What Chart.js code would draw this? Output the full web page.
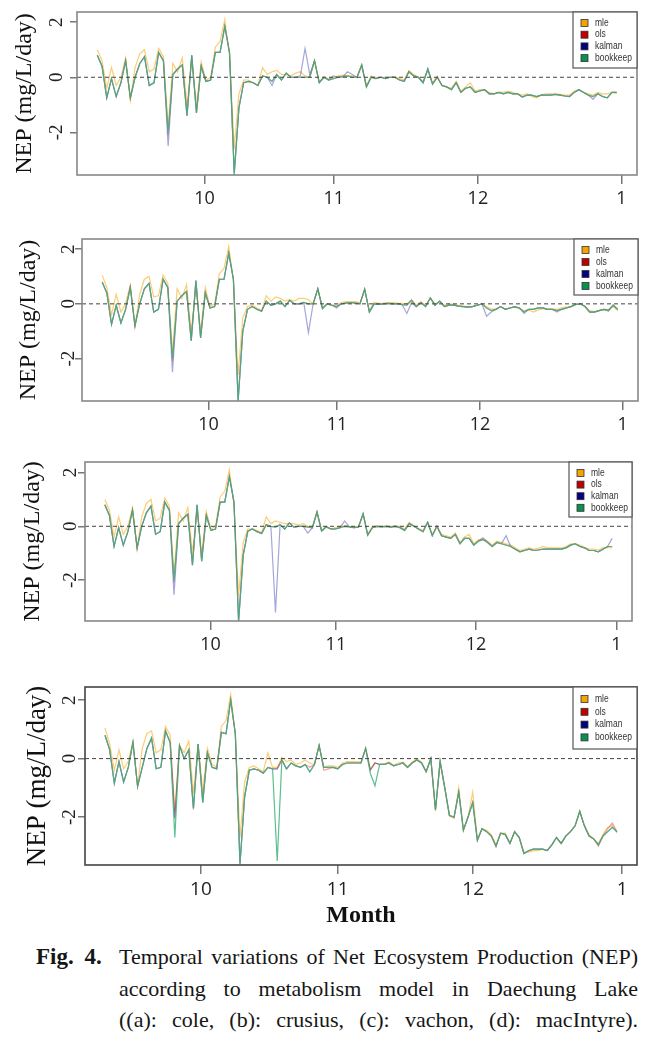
<!DOCTYPE html>
<html>
<head>
<meta charset="utf-8">
<script src="https://cdn.jsdelivr.net/npm/chart.js@4.4.1/dist/chart.umd.min.js"></script>
<style>
  html, body { margin: 0; padding: 0; background: #fff; }
  body { width: 658px; height: 1038px; position: relative; overflow: hidden; }
  .panel { position: absolute; left: 0; width: 658px; }
  .cap { position: absolute; font-family: "Liberation Serif", "Times New Roman", serif; font-size: 22px; line-height: 31.5px; color: #161616; }
  .ln { text-align: justify; text-align-last: justify; white-space: nowrap; }
</style>
</head>
<body>
<div class="panel" style="top:0;height:215px"><canvas id="pa"></canvas></div>
<div class="panel" style="top:225px;height:215px"><canvas id="pb"></canvas></div>
<div class="panel" style="top:445px;height:215px"><canvas id="pc"></canvas></div>
<div class="panel" style="top:665px;height:275px"><canvas id="pd"></canvas></div>

<div class="cap" style="left:36px;top:941px;font-weight:bold;font-size:23px;word-spacing:5px">Fig. 4.</div>
<div class="cap" style="left:119px;top:941px;width:519px">
  <div class="ln">Temporal variations of Net Ecosystem Production (NEP)</div>
  <div class="ln">according to metabolism model in Daechung Lake</div>
  <div class="ln">((a): cole, (b): crusius, (c): vachon, (d): macIntyre).</div>
</div>

<script>
// one value per day, from early September to the end of December
const seriesNames = ['mle', 'ols', 'kalman', 'bookkeep'];
const monthLabels = ['10', '11', '12', '1'];
const yTicks = [-2, 0, 2];

// (a) cole
const aMle = [
  1.0, 0.6, -0.4, 0.35, -0.3, 0.0, 0.7, -0.85, 0.35, 0.85,
  1.0, 0.2, 0.3, 1.05, 0.75, -1.8, 0.5, 0.2, 0.7, -1.0,
  0.6, -1.0, 0.55, -0.1, 0.0, 1.1, 1.3, 2.1, 0.8, -2.6,
  -0.6, -0.1, -0.1, -0.2, -0.3, 0.35, 0.1, 0.2, 0.25, 0.1,
  0.1, 0.05, 0.15, 0.2, 0.05, 0.0, 0.6, -0.15, 0.0, -0.05,
  0.0, 0.05, 0.08, 0.05, 0.05, 0.0, 0.4, -0.3, 0.05, 0.0,
  0.0, 0.0, 0.0, 0.02, -0.05, -0.1, 0.25, 0.1, 0.0, -0.15,
  0.25, -0.2, 0.05, -0.3, -0.35, -0.4, -0.15, -0.5, -0.35, -0.2,
  -0.5, -0.45, -0.45, -0.55, -0.6, -0.55, -0.55, -0.5, -0.55, -0.6,
  -0.65, -0.6, -0.7, -0.75, -0.65, -0.6, -0.6, -0.6, -0.62, -0.65,
  -0.65, -0.5, -0.45, -0.55, -0.6, -0.65, -0.55, -0.6, -0.6, -0.55,
  -0.6
];
const aOls = [
  0.8, 0.4, -0.75, -0.05, -0.7, -0.2, 0.6, -0.75, 0.0, 0.5,
  0.75, -0.3, -0.2, 0.9, 0.6, -2.1, 0.1, 0.3, 0.45, -1.4,
  0.8, -1.3, 0.4, -0.15, -0.1, 0.9, 0.9, 1.85, 0.9, -3.45,
  -1.1, -0.2, -0.15, -0.2, -0.3, 0.05, 0.0, -0.15, 0.1, -0.1,
  0.15, 0.0, 0.0, 0.0, 0.0, 0.0, 0.6, -0.2, 0.0, -0.1,
  -0.05, 0.0, 0.02, 0.05, 0.0, 0.0, 0.45, -0.35, 0.0, -0.05,
  0.0, -0.05, 0.0, 0.0, -0.1, -0.15, 0.2, 0.05, 0.0, -0.2,
  0.3, -0.25, 0.0, -0.3, -0.35, -0.45, -0.2, -0.55, -0.4, -0.35,
  -0.55, -0.5, -0.45, -0.6, -0.6, -0.55, -0.6, -0.55, -0.6, -0.6,
  -0.72, -0.65, -0.65, -0.7, -0.65, -0.65, -0.65, -0.62, -0.65, -0.68,
  -0.7, -0.55, -0.45, -0.55, -0.65, -0.7, -0.6, -0.7, -0.75, -0.55,
  -0.55
];
const aKalman = [
  0.8, 0.4, -0.75, -0.05, -0.7, -0.2, 0.6, -0.75, 0.0, 0.5,
  0.75, -0.3, -0.2, 0.9, 0.6, -2.5, 0.1, 0.3, 0.45, -1.4,
  0.8, -1.3, 0.4, -0.15, -0.1, 0.9, 0.9, 1.85, 0.9, -3.5,
  -1.1, -0.2, -0.15, -0.2, -0.3, 0.05, 0.0, -0.3, 0.1, -0.1,
  0.15, 0.0, 0.0, 0.05, 1.05, 0.1, 0.6, -0.2, 0.0, -0.1,
  0.05, 0.0, 0.02, 0.2, 0.1, 0.0, 0.45, -0.35, 0.0, -0.05,
  0.0, -0.05, 0.0, 0.0, -0.1, -0.15, 0.2, 0.05, 0.0, -0.2,
  0.3, -0.25, 0.0, -0.3, -0.35, -0.45, -0.2, -0.55, -0.4, -0.35,
  -0.55, -0.5, -0.45, -0.6, -0.6, -0.55, -0.6, -0.55, -0.6, -0.6,
  -0.72, -0.65, -0.65, -0.7, -0.65, -0.65, -0.65, -0.62, -0.65, -0.68,
  -0.7, -0.55, -0.45, -0.55, -0.65, -0.8, -0.6, -0.7, -0.75, -0.55,
  -0.55
];
const aBook = [
  0.8, 0.4, -0.75, -0.05, -0.7, -0.2, 0.6, -0.75, 0.0, 0.5,
  0.75, -0.3, -0.2, 0.9, 0.6, -2.0, 0.1, 0.3, 0.45, -1.4,
  0.8, -1.3, 0.4, -0.15, -0.1, 0.9, 0.9, 1.85, 0.9, -3.55,
  -1.1, -0.2, -0.15, -0.2, -0.3, 0.05, 0.0, -0.15, 0.1, -0.1,
  0.15, 0.0, 0.0, 0.0, 0.0, 0.0, 0.6, -0.2, 0.0, -0.1,
  -0.05, 0.0, 0.02, 0.05, 0.0, 0.0, 0.45, -0.35, 0.0, -0.05,
  0.0, -0.05, 0.0, 0.0, -0.1, -0.15, 0.2, 0.05, 0.0, -0.2,
  0.3, -0.25, 0.0, -0.3, -0.35, -0.45, -0.2, -0.55, -0.4, -0.35,
  -0.55, -0.5, -0.45, -0.6, -0.6, -0.55, -0.6, -0.55, -0.6, -0.6,
  -0.72, -0.65, -0.65, -0.7, -0.65, -0.65, -0.65, -0.62, -0.65, -0.68,
  -0.7, -0.55, -0.45, -0.55, -0.65, -0.7, -0.6, -0.7, -0.75, -0.55,
  -0.55
];

// (b) crusius
const bMle = [
  1.05, 0.6, -0.4, 0.35, -0.3, 0.0, 0.7, -0.85, 0.35, 0.9,
  1.0, 0.25, 0.3, 1.05, 0.75, -1.8, 0.55, 0.2, 0.7, -1.0,
  0.6, -1.0, 0.6, -0.1, 0.0, 1.1, 1.3, 2.1, 0.8, -2.6,
  -0.5, -0.1, -0.05, -0.15, -0.25, 0.3, 0.1, 0.25, 0.2, 0.1,
  0.15, 0.1, 0.2, 0.2, 0.15, 0.0, 0.55, -0.15, 0.0, -0.05,
  -0.05, 0.05, 0.08, 0.08, 0.08, 0.05, 0.5, -0.25, 0.05, 0.02,
  0.03, 0.05, 0.05, 0.03, 0.02, 0.0, 0.15, -0.05, 0.08, -0.05,
  0.2, 0.0, 0.08, -0.05, 0.0, -0.02, -0.05, -0.08, -0.1, -0.1,
  -0.05, 0.0, -0.1, -0.2, -0.18, -0.1, -0.2, -0.15, -0.12, -0.18,
  -0.25, -0.22, -0.3, -0.22, -0.18, -0.2, -0.18, -0.2, -0.15, -0.12,
  -0.1, -0.02, 0.0, -0.1, -0.25, -0.28, -0.25, -0.2, -0.2, -0.1,
  -0.25
];
const bOls = [
  0.8, 0.4, -0.75, -0.05, -0.7, -0.2, 0.6, -0.8, 0.0, 0.55,
  0.75, -0.3, -0.2, 0.9, 0.6, -2.1, 0.1, 0.3, 0.45, -1.35,
  0.85, -1.25, 0.4, -0.15, -0.1, 0.9, 0.9, 1.85, 0.9, -3.5,
  -1.0, -0.2, -0.1, -0.2, -0.27, 0.1, -0.05, 0.0, 0.1, -0.1,
  0.13, 0.0, 0.0, 0.05, 0.0, 0.0, 0.55, -0.17, 0.0, -0.05,
  -0.1, 0.0, 0.03, 0.05, 0.03, 0.0, 0.54, -0.3, 0.0, -0.02,
  0.0, 0.02, 0.0, 0.0, -0.03, -0.05, 0.13, -0.1, 0.05, -0.1,
  0.22, -0.05, 0.1, -0.1, -0.05, -0.05, -0.08, -0.1, -0.12, -0.1,
  -0.05, 0.0, -0.15, -0.25, -0.2, -0.1, -0.2, -0.15, -0.1, -0.15,
  -0.3, -0.2, -0.2, -0.15, -0.15, -0.2, -0.2, -0.25, -0.2, -0.15,
  -0.1, -0.02, 0.0, -0.1, -0.3, -0.3, -0.25, -0.2, -0.25, -0.05,
  -0.2
];
const bKalman = [
  0.8, 0.4, -0.75, -0.05, -0.7, -0.2, 0.6, -0.8, 0.0, 0.55,
  0.75, -0.3, -0.2, 0.9, 0.6, -2.5, 0.1, 0.3, 0.45, -1.35,
  0.85, -1.25, 0.4, -0.15, -0.1, 0.9, 0.9, 1.85, 0.9, -3.55,
  -1.0, -0.2, -0.1, -0.2, -0.27, 0.1, -0.05, 0.0, 0.1, -0.1,
  0.13, 0.0, 0.0, 0.05, -1.05, 0.0, 0.55, -0.17, 0.0, -0.05,
  -0.15, 0.0, 0.03, 0.05, 0.03, 0.0, 0.54, -0.3, 0.0, -0.02,
  0.0, 0.02, 0.0, 0.0, -0.03, -0.35, 0.05, -0.1, 0.05, -0.1,
  0.22, -0.05, 0.1, -0.1, -0.05, -0.05, -0.08, -0.1, -0.12, -0.1,
  -0.05, 0.0, -0.45, -0.3, -0.2, -0.1, -0.2, -0.15, -0.1, -0.15,
  -0.35, -0.2, -0.2, -0.15, -0.15, -0.2, -0.2, -0.3, -0.2, -0.15,
  -0.1, -0.02, 0.0, -0.1, -0.3, -0.3, -0.25, -0.2, -0.25, -0.05,
  -0.2
];
const bBook = [
  0.8, 0.4, -0.75, -0.05, -0.7, -0.2, 0.6, -0.8, 0.0, 0.55,
  0.75, -0.3, -0.2, 0.9, 0.6, -2.0, 0.1, 0.3, 0.45, -1.35,
  0.85, -1.25, 0.4, -0.15, -0.1, 0.9, 0.9, 1.85, 0.9, -3.55,
  -1.0, -0.2, -0.1, -0.2, -0.27, 0.1, -0.05, 0.0, 0.1, -0.1,
  0.13, 0.0, 0.0, 0.05, 0.0, 0.0, 0.55, -0.17, 0.0, -0.05,
  -0.1, 0.0, 0.03, 0.05, 0.03, 0.0, 0.54, -0.3, 0.0, -0.02,
  0.0, 0.02, 0.0, 0.0, -0.03, -0.05, 0.13, -0.1, 0.05, -0.1,
  0.22, -0.05, 0.1, -0.1, -0.05, -0.05, -0.08, -0.1, -0.12, -0.1,
  -0.05, 0.0, -0.15, -0.25, -0.2, -0.1, -0.2, -0.15, -0.1, -0.15,
  -0.3, -0.2, -0.2, -0.15, -0.15, -0.2, -0.2, -0.25, -0.2, -0.15,
  -0.1, -0.02, 0.0, -0.1, -0.3, -0.3, -0.25, -0.2, -0.25, -0.05,
  -0.2
];

// (c) vachon
const cMle = [
  1.0, 0.6, -0.4, 0.35, -0.3, 0.0, 0.7, -0.85, 0.35, 0.85,
  1.0, 0.2, 0.3, 1.05, 0.75, -1.8, 0.5, 0.2, 0.7, -1.0,
  0.6, -1.0, 0.55, -0.1, 0.0, 1.1, 1.3, 2.1, 0.8, -2.6,
  -0.6, -0.1, -0.1, -0.15, -0.25, 0.35, 0.1, 0.2, 0.15, 0.1,
  0.1, 0.1, 0.05, 0.1, 0.0, 0.0, 0.55, -0.15, 0.0, -0.1,
  -0.05, 0.0, 0.03, 0.0, -0.02, 0.0, 0.45, -0.3, -0.02, 0.03,
  0.0, 0.02, 0.0, 0.02, 0.0, -0.1, 0.15, 0.03, -0.08, -0.15,
  0.15, -0.3, 0.02, -0.3, -0.35, -0.4, -0.25, -0.6, -0.4, -0.3,
  -0.65, -0.5, -0.48, -0.55, -0.7, -0.55, -0.6, -0.65, -0.7, -0.8,
  -0.9, -0.85, -0.8, -0.85, -0.82, -0.75, -0.8, -0.8, -0.8, -0.8,
  -0.75, -0.65, -0.65, -0.7, -0.78, -0.85, -0.85, -0.88, -0.8, -0.78,
  -0.8
];
const cOls = [
  0.8, 0.4, -0.75, -0.05, -0.7, -0.2, 0.6, -0.8, 0.0, 0.5,
  0.75, -0.3, -0.2, 0.9, 0.6, -2.1, 0.1, 0.3, 0.45, -1.45,
  0.8, -1.3, 0.4, -0.15, -0.1, 0.9, 0.9, 1.85, 0.9, -3.5,
  -1.07, -0.18, -0.1, -0.2, -0.27, 0.06, 0.0, -0.03, 0.06, -0.1,
  0.13, -0.03, 0.0, 0.0, -0.03, -0.06, 0.53, -0.18, -0.02, -0.1,
  -0.1, -0.05, 0.0, -0.02, -0.05, -0.03, 0.47, -0.33, -0.05, 0.0,
  -0.02, 0.0, -0.03, 0.0, -0.05, -0.15, 0.1, 0.0, -0.1, -0.2,
  0.15, -0.35, 0.0, -0.35, -0.4, -0.45, -0.3, -0.65, -0.45, -0.45,
  -0.7, -0.55, -0.5, -0.6, -0.75, -0.6, -0.65, -0.7, -0.75, -0.85,
  -0.95, -0.9, -0.85, -0.9, -0.88, -0.85, -0.85, -0.85, -0.85, -0.85,
  -0.8, -0.7, -0.65, -0.75, -0.8, -0.9, -0.9, -0.95, -0.85, -0.75,
  -0.75
];
const cKalman = [
  0.8, 0.4, -0.75, -0.05, -0.7, -0.2, 0.6, -0.8, 0.0, 0.5,
  0.75, -0.3, -0.2, 0.9, 0.6, -2.55, 0.1, 0.3, 0.45, -1.45,
  0.8, -1.3, 0.4, -0.15, -0.1, 0.9, 0.9, 1.85, 0.9, -3.55,
  -1.07, -0.18, -0.1, -0.2, -0.27, 0.06, 0.0, -3.2, 0.06, -0.1,
  0.13, -0.03, 0.0, 0.0, -0.25, -0.06, 0.53, -0.18, -0.02, -0.1,
  -0.1, -0.05, 0.2, -0.02, -0.05, -0.03, 0.47, -0.33, -0.05, 0.0,
  -0.02, 0.0, -0.03, 0.0, -0.05, -0.15, 0.1, 0.0, -0.1, -0.2,
  0.15, -0.35, 0.0, -0.35, -0.4, -0.45, -0.3, -0.65, -0.45, -0.45,
  -0.7, -0.55, -0.43, -0.6, -0.75, -0.6, -0.65, -0.35, -0.75, -0.85,
  -0.95, -0.9, -0.85, -0.9, -0.88, -0.85, -0.85, -0.85, -0.85, -0.85,
  -0.8, -0.7, -0.65, -0.75, -0.8, -0.9, -0.9, -0.95, -0.85, -0.75,
  -0.45
];
const cBook = [
  0.8, 0.4, -0.75, -0.05, -0.7, -0.2, 0.6, -0.8, 0.0, 0.5,
  0.75, -0.3, -0.2, 0.9, 0.6, -2.0, 0.1, 0.3, 0.45, -1.45,
  0.8, -1.3, 0.4, -0.15, -0.1, 0.9, 0.9, 1.85, 0.9, -3.55,
  -1.07, -0.18, -0.1, -0.2, -0.27, 0.06, 0.0, -0.03, 0.06, -0.1,
  0.13, -0.03, 0.0, 0.0, -0.03, -0.06, 0.53, -0.18, -0.02, -0.1,
  -0.1, -0.05, 0.0, -0.02, -0.05, -0.03, 0.47, -0.33, -0.05, 0.0,
  -0.02, 0.0, -0.03, 0.0, -0.05, -0.15, 0.1, 0.0, -0.1, -0.2,
  0.15, -0.35, 0.0, -0.35, -0.4, -0.45, -0.3, -0.65, -0.45, -0.45,
  -0.7, -0.55, -0.5, -0.6, -0.75, -0.6, -0.65, -0.7, -0.75, -0.85,
  -0.95, -0.9, -0.85, -0.9, -0.88, -0.85, -0.85, -0.85, -0.85, -0.85,
  -0.8, -0.7, -0.65, -0.75, -0.8, -0.9, -0.9, -0.95, -0.85, -0.75,
  -0.75
];

// (d) macIntyre
const dMle = [
  1.05, 0.5, -0.4, 0.3, -0.35, -0.1, 0.6, -0.95, 0.35, 0.85,
  0.95, 0.2, 0.3, 1.1, 0.8, -1.8, 0.45, 0.2, 0.6, -1.2,
  0.5, -1.1, 0.35, -0.2, -0.3, 1.1, 1.3, 2.2, 0.8, -2.7,
  -0.8, -0.3, -0.25, -0.35, -0.45, 0.2, -0.3, -0.3, 0.05, -0.1,
  -0.05, -0.2, -0.15, -0.05, -0.15, -0.2, 0.45, -0.3, -0.25, -0.25,
  -0.3, -0.15, -0.1, -0.1, -0.1, -0.12, 0.35, -0.35, -0.15, -0.2,
  -0.18, -0.12, -0.22, -0.15, -0.12, -0.28, -0.12, 0.0, -0.12, -0.45,
  0.0, -1.8, -0.1, -1.0, -1.95, -2.05, -1.0, -2.45, -2.0, -1.15,
  -2.75, -2.4, -2.45, -2.6, -2.95, -2.55, -2.55, -2.9, -2.5, -2.7,
  -3.2, -3.2, -3.15, -3.15, -3.1, -3.15, -2.95, -2.7, -2.9, -2.65,
  -2.5, -2.3, -1.8, -2.3, -2.6, -2.75, -2.9, -2.6, -2.35, -2.3,
  -2.55
];
const dOls = [
  0.8, 0.3, -0.8, -0.1, -0.8, -0.3, 0.55, -0.95, -0.3, 0.35,
  0.7, -0.35, -0.3, 0.95, 0.55, -2.05, 0.45, 0.0, 0.3, -1.75,
  0.5, -1.5, 0.2, -0.3, -0.35, 0.9, 0.85, 2.0, 0.85, -3.6,
  -1.3, -0.4, -0.35, -0.4, -0.5, -0.3, -0.35, -0.35, -0.05, -0.35,
  -0.15, -0.25, -0.3, -0.2, -0.3, -0.2, 0.45, -0.4, -0.35, -0.3,
  -0.35, -0.2, -0.15, -0.15, -0.15, -0.15, 0.35, -0.4, -0.15, -0.2,
  -0.2, -0.15, -0.25, -0.2, -0.15, -0.3, -0.15, -0.05, -0.15, -0.45,
  0.0, -1.75, -0.1, -1.0, -1.95, -2.0, -1.15, -2.45, -2.0, -1.5,
  -2.8, -2.4, -2.5, -2.65, -3.0, -2.55, -2.6, -2.9, -2.5, -2.7,
  -3.25, -3.15, -3.1, -3.1, -3.1, -3.15, -2.95, -2.7, -2.9, -2.65,
  -2.5, -2.3, -1.8, -2.3, -2.65, -2.75, -3.0, -2.65, -2.4, -2.2,
  -2.5
];
const dKalman = [
  0.8, 0.3, -0.85, -0.1, -0.8, -0.3, 0.55, -0.95, -0.3, 0.35,
  0.7, -0.35, -0.3, 0.95, 0.55, -2.05, 0.45, 0.0, 0.3, -1.7,
  0.5, -1.5, 0.2, -0.3, -0.35, 0.9, 0.85, 2.0, 0.85, -3.6,
  -1.3, -0.4, -0.35, -0.4, -0.5, -0.3, -0.35, -0.35, -0.05, -0.35,
  -0.15, -0.25, -0.3, -0.2, -0.45, -0.2, 0.45, -0.3, -0.3, -0.3,
  -0.35, -0.2, -0.15, -0.15, -0.15, -0.15, 0.35, -0.4, -0.15, -0.2,
  -0.2, -0.15, -0.25, -0.2, -0.15, -0.3, -0.15, -0.05, -0.15, -0.45,
  0.0, -1.75, -0.1, -1.0, -1.95, -2.0, -1.15, -2.45, -2.0, -1.5,
  -2.8, -2.4, -2.5, -2.65, -3.0, -2.55, -2.6, -2.9, -2.5, -2.7,
  -3.25, -3.15, -3.1, -3.1, -3.1, -3.15, -2.95, -2.7, -2.9, -2.65,
  -2.5, -2.3, -1.8, -2.3, -2.65, -2.75, -2.95, -2.65, -2.5, -2.35,
  -2.5
];
const dBook = [
  0.8, 0.3, -0.85, -0.1, -0.8, -0.3, 0.55, -0.95, -0.3, 0.35,
  0.7, -0.35, -0.3, 0.95, 0.55, -2.7, 0.45, 0.0, 0.3, -1.7,
  0.5, -1.5, 0.2, -0.3, -0.35, 0.9, 0.85, 2.0, 0.85, -3.6,
  -1.3, -0.4, -0.35, -0.4, -0.5, -0.3, -0.35, -3.5, -0.05, -0.35,
  -0.15, -0.25, -0.3, -0.2, -0.45, -0.2, 0.45, -0.3, -0.3, -0.3,
  -0.35, -0.2, -0.15, -0.15, -0.15, -0.15, 0.35, -0.5, -0.93, -0.2,
  -0.2, -0.15, -0.25, -0.2, -0.15, -0.3, -0.15, -0.05, -0.15, -0.45,
  0.0, -1.75, -0.1, -1.0, -1.95, -2.0, -1.15, -2.45, -2.0, -1.5,
  -2.8, -2.4, -2.5, -2.65, -3.0, -2.55, -2.6, -2.9, -2.5, -2.7,
  -3.25, -3.15, -3.1, -3.1, -3.1, -3.15, -2.95, -2.7, -2.9, -2.65,
  -2.5, -2.3, -1.8, -2.3, -2.65, -2.75, -2.95, -2.65, -2.5, -2.35,
  -2.5
];

const lineColors = ['rgba(250,178,40,0.65)', 'rgba(210,30,30,0.4)', 'rgba(40,40,165,0.42)', 'rgba(62,180,122,0.85)'];
const keyColors = ['#F5A300', '#C00000', '#000080', '#0A9150'];

const panels = [
  { id: 'pa', series: [aMle, aOls, aKalman, aBook], top: 12, right: 21, left: 77, xh: 40,
    ticks: [22.7, 50.1, 80.6, 111], yMin: -3.55, yMax: 2.37, titleSize: 24, titlePad: 10, yLabelX: 57,
    box: '#888', lg: { w: 64, h: 56, first: 11, step: 11.7 } },
  { id: 'pb', series: [bMle, bOls, bKalman, bBook], top: 14, right: 20, left: 82, xh: 39,
    ticks: [22.7, 50.1, 80.6, 111], yMin: -3.55, yMax: 2.37, titleSize: 24, titlePad: 14, yLabelX: 69,
    box: '#888', lg: { w: 64, h: 56, first: 11, step: 12 } },
  { id: 'pc', series: [cMle, cOls, cKalman, cBook], top: 17, right: 26, left: 85, xh: 39,
    ticks: [22.9, 50.1, 80.5, 110.9], yMin: -3.52, yMax: 2.39, titleSize: 24, titlePad: 18, yLabelX: 71,
    box: '#888', lg: { w: 63, h: 55, first: 11, step: 11.6 } },
  { id: 'pd', series: [dMle, dOls, dKalman, dBook], top: 22, right: 21, left: 85, xh: 75,
    ticks: [20.6, 50, 79.1, 111.1], yMin: -3.64, yMax: 2.45, titleSize: 27, titlePad: 22, yLabelX: 70,
    box: '#444', lg: { w: 64, h: 62, first: 12, step: 12.8 }, month: true }
];

const panelDeco = {
  id: 'panelDeco',
  afterDatasetsDraw(chart, args, o) {
    const { ctx, chartArea: a, scales: { y } } = chart;
    const y0 = y.getPixelForValue(0);
    ctx.save();
    ctx.strokeStyle = '#444';
    ctx.lineWidth = 1;
    ctx.setLineDash([4, 3]);
    ctx.beginPath();
    ctx.moveTo(a.left, y0);
    ctx.lineTo(a.right, y0);
    ctx.stroke();
    ctx.setLineDash([]);
    ctx.strokeStyle = o.box;
    ctx.lineWidth = 1.6;
    ctx.strokeRect(a.left, a.top, a.right - a.left, a.bottom - a.top);

    // rotated y tick labels, like R's default
    ctx.fillStyle = '#222';
    ctx.font = '19px "Liberation Serif", serif';
    ctx.textAlign = 'center';
    ctx.textBaseline = 'middle';
    yTicks.forEach(v => {
      ctx.save();
      ctx.translate(o.yLabelX, y.getPixelForValue(v));
      ctx.rotate(-Math.PI / 2);
      ctx.fillText(String(v), 0, 0);
      ctx.restore();
    });

    // boxed legend in the top right corner
    const lg = o.lg;
    const bx = a.right - lg.w, by = a.top;
    ctx.fillStyle = '#fff';
    ctx.fillRect(bx, by, lg.w, lg.h);
    ctx.strokeStyle = '#555';
    ctx.lineWidth = 1.2;
    ctx.strokeRect(bx, by, lg.w, lg.h);
    ctx.font = '10px "Liberation Sans", Arial, sans-serif';
    ctx.textAlign = 'left';
    seriesNames.forEach((name, i) => {
      const cy = by + lg.first + i * lg.step;
      ctx.fillStyle = keyColors[i];
      ctx.fillRect(bx + 8, cy - 3.5, 7, 7);
      ctx.strokeStyle = '#333';
      ctx.lineWidth = 0.8;
      ctx.strokeRect(bx + 8, cy - 3.5, 7, 7);
      ctx.save();
      ctx.translate(bx + 22, cy);
      ctx.scale(0.85, 1);
      ctx.fillStyle = '#333';
      ctx.fillText(name, 0, 0);
      ctx.restore();
    });
    ctx.restore();
  }
};

panels.forEach(p => {
  const datasets = p.series.map((vals, i) => ({
    label: seriesNames[i],
    data: vals.map((v, k) => ({ x: k, y: v })),
    borderColor: lineColors[i],
    borderWidth: 1.2,
    pointRadius: 0,
    tension: 0,
    order: 4 - i
  }));
  new Chart(document.getElementById(p.id), {
    type: 'line',
    data: { datasets },
    options: {
      responsive: true,
      maintainAspectRatio: false,
      animation: false,
      layout: { padding: { top: p.top, right: p.right, left: 0, bottom: 0 } },
      plugins: {
        legend: { display: false },
        tooltip: { enabled: false },
        panelDeco: { box: p.box, yLabelX: p.yLabelX, lg: p.lg }
      },
      scales: {
        x: {
          type: 'linear',
          min: -4.3,
          max: 114.3,
          afterBuildTicks: s => { s.ticks = p.ticks.map(v => ({ value: v })); },
          afterFit: s => { s.height = p.xh; },
          grid: { drawOnChartArea: false, tickLength: 9, color: '#777', lineWidth: 1.5 },
          border: { display: false },
          ticks: {
            autoSkip: false, maxRotation: 0, padding: 4, color: '#222',
            font: { family: '"Open Sans", sans-serif', size: p.month ? 19 : 18 },
            callback: (v, i) => monthLabels[i]
          },
          title: {
            display: !!p.month,
            text: 'Month',
            color: '#111',
            font: { family: '"Liberation Serif", serif', size: 24, weight: 'bold' },
            padding: { top: 0, bottom: 10 }
          }
        },
        y: {
          min: p.yMin,
          max: p.yMax,
          afterBuildTicks: s => { s.ticks = yTicks.map(v => ({ value: v })); },
          afterFit: s => { s.width = p.left; },
          grid: { drawOnChartArea: false, tickLength: 7, color: '#777', lineWidth: 1.5 },
          border: { display: false },
          ticks: { display: false },
          title: {
            display: true,
            text: 'NEP (mg/L/day)',
            color: '#111',
            font: { family: '"Liberation Serif", serif', size: p.titleSize },
            padding: { top: p.titlePad, bottom: 0 }
          }
        }
      }
    },
    plugins: [panelDeco]
  });
});
</script>
</body>
</html>
